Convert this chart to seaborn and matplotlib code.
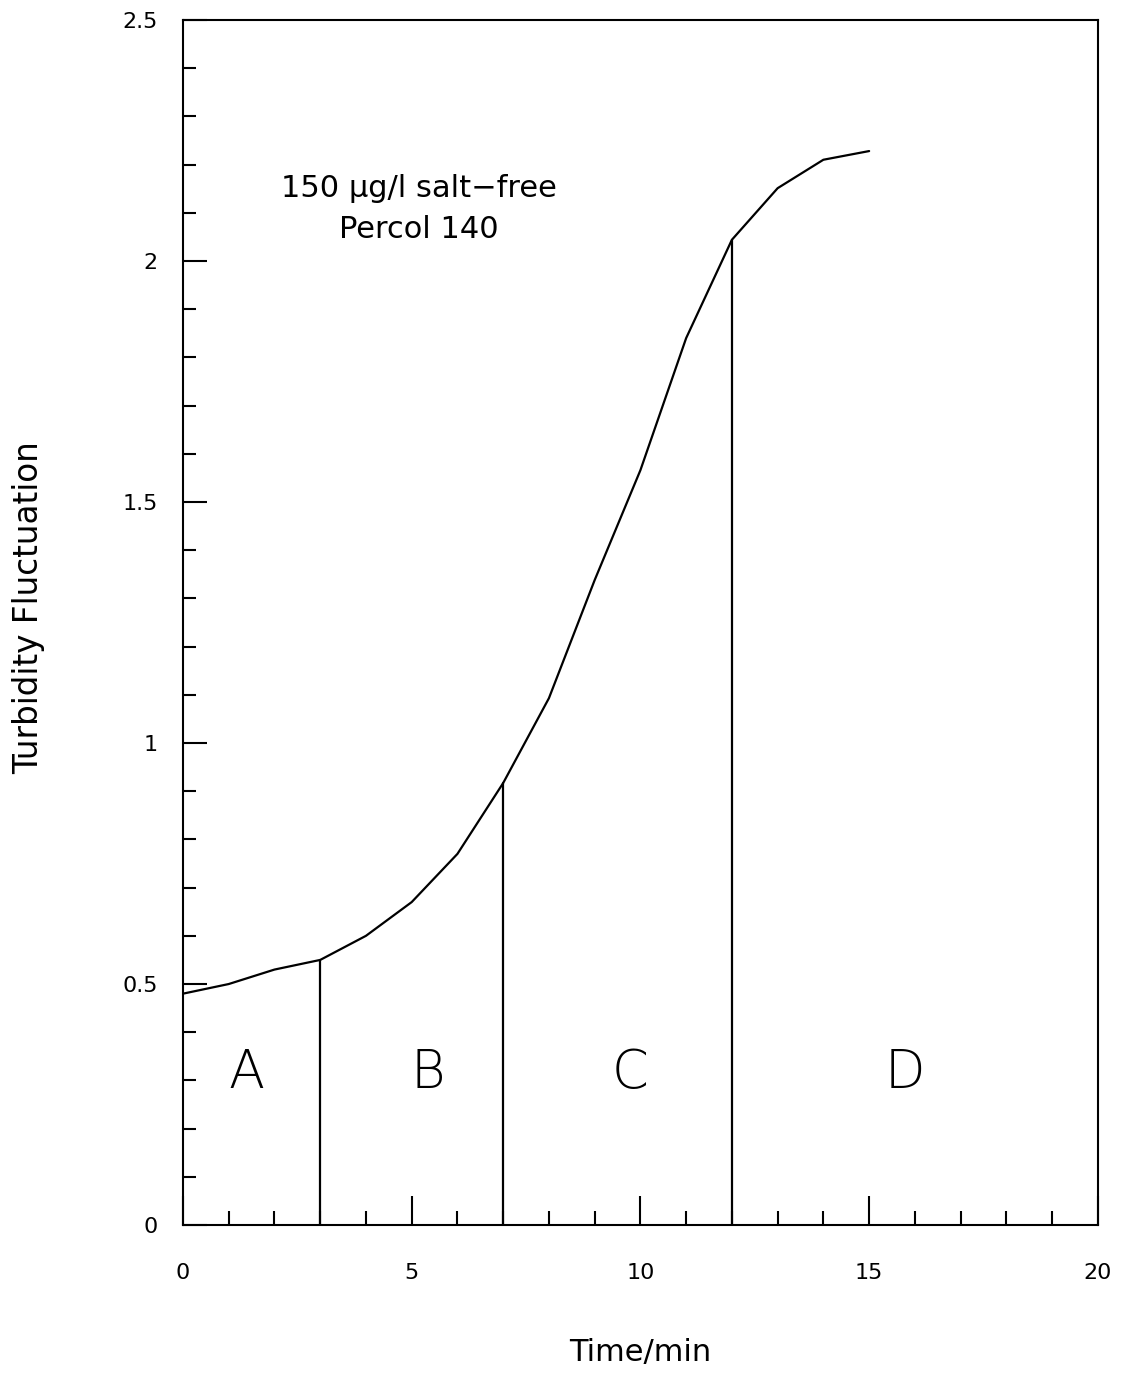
import matplotlib
matplotlib.use("Agg")
import matplotlib.pyplot as plt
from matplotlib.ticker import MultipleLocator
import seaborn as sns
import pandas as pd

# Turbidity fluctuation vs time
time_min = [0, 1, 2, 3, 4, 5, 6, 7, 8, 9, 10, 11, 12, 13, 14, 15]
turbidity = [0.48, 0.50, 0.53, 0.55, 0.60, 0.67, 0.77, 0.917, 1.093, 1.338,
             1.566, 1.84, 2.044, 2.151, 2.21, 2.228]

# Stage boundaries (minutes) and stage labels
boundaries = [3, 7, 12]
stage_labels = ["A", "B", "C", "D"]
stage_x = [1.38, 5.35, 9.77, 15.78]
stage_y = 0.315

df = pd.DataFrame({"Time": time_min, "Turbidity": turbidity})

sns.set_style("white")
plt.rcParams["font.family"] = ["DejaVu Sans"]

fig = plt.figure(figsize=(11.26, 13.76), dpi=100)
ax = fig.add_axes([0.1625, 0.1097, 0.975 - 0.1625, 0.9855 - 0.1097])

sns.lineplot(data=df, x="Time", y="Turbidity", ax=ax, color="black",
             linewidth=1.6, estimator=None, sort=False)

# Vertical dividers from the axis up to the curve
for b in boundaries:
    yv = turbidity[time_min.index(b)]
    ax.plot([b, b], [0, yv], color="black", linewidth=1.6)

for lab, xs in zip(stage_labels, stage_x):
    ax.text(xs, stage_y, lab, ha="center", va="center", fontsize=38,
            fontweight=200, color="black")

ax.text(5.15, 2.108, "150 \u03bcg/l salt\u2212free\nPercol 140", ha="center",
        va="center", fontsize=22, linespacing=1.5, color="black")

ax.set_xlim(0, 20)
ax.set_ylim(0, 2.5)
ax.xaxis.set_major_locator(MultipleLocator(5))
ax.xaxis.set_minor_locator(MultipleLocator(1))
ax.yaxis.set_major_locator(MultipleLocator(0.5))
ax.yaxis.set_minor_locator(MultipleLocator(0.1))
ax.set_xticks([0, 5, 10, 15, 20])
ax.set_xticklabels(["0", "5", "10", "15", "20"])
ax.set_yticks([0, 0.5, 1, 1.5, 2, 2.5])
ax.set_yticklabels(["0", "0.5", "1", "1.5", "2", "2.5"])

ax.tick_params(axis="both", which="both", direction="in", color="black",
               labelcolor="black", width=1.5, bottom=True, left=True,
               top=False, right=False, labelsize=16)
ax.tick_params(axis="x", which="major", length=21, pad=27)
ax.tick_params(axis="x", which="minor", length=10)
ax.tick_params(axis="y", which="major", length=17, pad=18)
ax.tick_params(axis="y", which="minor", length=9)

for sp in ax.spines.values():
    sp.set_visible(True)
    sp.set_color("black")
    sp.set_linewidth(1.5)

ax.set_xlabel("Time/min", fontsize=22, labelpad=40, color="black")
ax.set_ylabel("Turbidity Fluctuation", fontsize=23.5, labelpad=56,
              color="black")
ax.yaxis.label.set_y(0.512)

fig.savefig("out.png", dpi=100, facecolor="white")
